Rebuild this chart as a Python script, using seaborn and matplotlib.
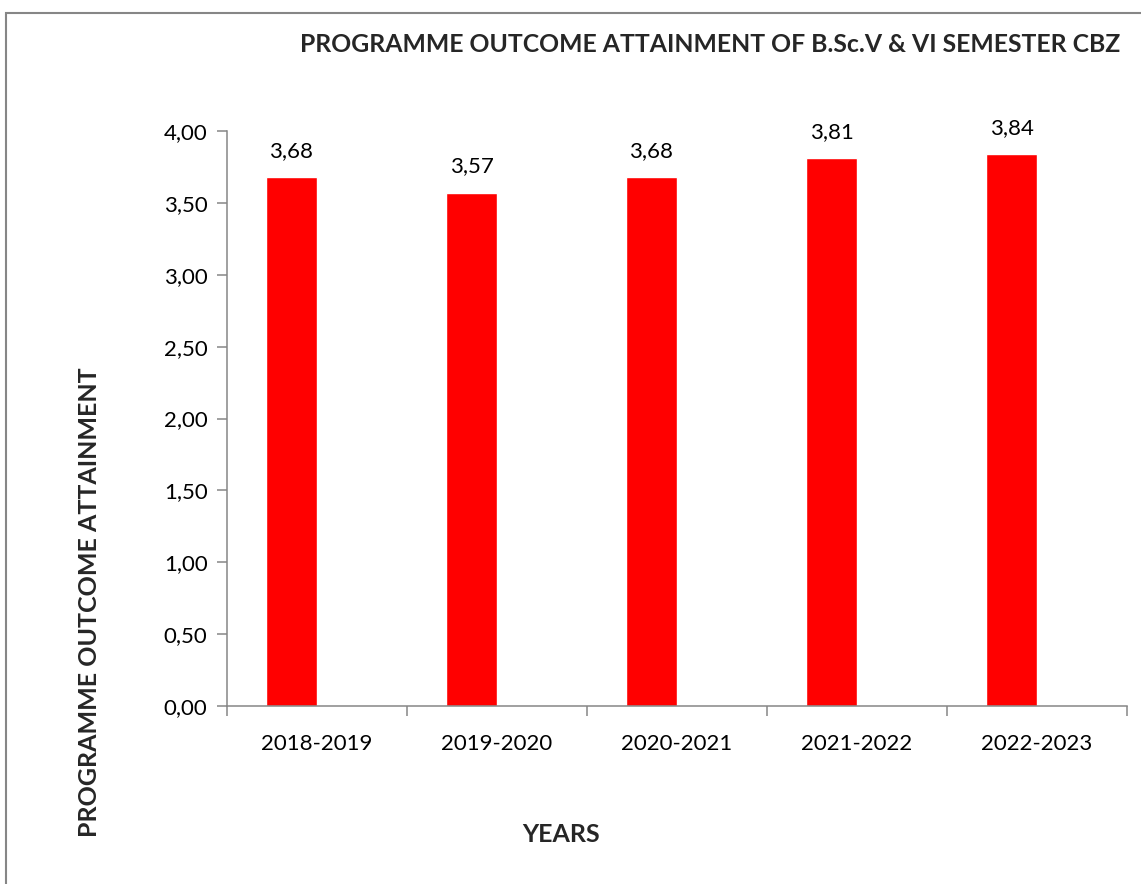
"""Programme outcome attainment bar chart."""
import pandas as pd
import matplotlib
matplotlib.use("Agg")
import matplotlib.pyplot as plt
import matplotlib.ticker as mticker
from matplotlib import font_manager
from matplotlib.patches import Rectangle
import seaborn as sns

years = ["2018-2019", "2019-2020", "2020-2021", "2021-2022", "2022-2023"]
attainment = [3.68, 3.57, 3.68, 3.81, 3.84]
yticks = [0.0, 0.5, 1.0, 1.5, 2.0, 2.5, 3.0, 3.5, 4.0]

GRAY = "#868686"
RED = "#FF0000"


def bold_family(candidates):
    """First candidate family that really has a bold face installed."""
    for name in candidates:
        for f in font_manager.fontManager.ttflist:
            w = f.weight if isinstance(f.weight, int) else 700 if f.weight == "bold" else 400
            if f.name == name and w >= 700:
                return name
    return "DejaVu Sans"


BOLD_FONT = bold_family(["Lato", "Open Sans", "Noto Sans", "Roboto", "Liberation Sans"])

sns.set_theme(style="white")
plt.rcParams["font.family"] = ["Lato", "DejaVu Sans"]

# excel draws the series in the left half of a two-slot cluster
data = pd.DataFrame({
    "year": years * 2,
    "value": attainment + [float("nan")] * len(years),
    "series": ["PO"] * len(years) + ["blank"] * len(years),
})

fig = plt.figure(figsize=(11.41, 8.84), dpi=100)
ax = fig.add_axes([227 / 1141, 1 - 706 / 884, 900 / 1141, 575 / 884])

sns.barplot(data=data, x="year", y="value", hue="series", hue_order=["PO", "blank"],
            palette={"PO": RED, "blank": RED}, width=0.567, dodge=True,
            saturation=1, errorbar=None, legend=False, ax=ax)

# value labels above the bars
for bar in ax.patches:
    h = bar.get_height()
    if h == h and h > 0:
        ax.annotate(f"{h:.2f}".replace(".", ","), (bar.get_x() + bar.get_width() / 2, h),
                    xytext=(0, 19), textcoords="offset points", ha="center", va="center",
                    fontsize=16, color="black")

ax.set_ylim(0, 4)
ax.set_xlim(-0.5, len(years) - 0.5)
ax.set_yticks(yticks)
ax.yaxis.set_major_formatter(mticker.FuncFormatter(lambda v, p: f"{v:.2f}".replace(".", ",")))
ax.set_xticks(range(len(years)))
ax.set_xticklabels(years)
ax.set_xticks([i - 0.5 for i in range(len(years) + 1)], minor=True)
ax.tick_params(axis="x", which="both", bottom=True)
ax.tick_params(axis="y", which="both", left=True)
ax.tick_params(axis="x", which="major", length=0, pad=20, labelsize=16, colors="black")
ax.tick_params(axis="x", which="minor", length=7, width=1.1, color=GRAY, direction="out")
ax.tick_params(axis="y", length=7, width=1.1, color=GRAY, direction="out", pad=7,
               labelsize=16, labelcolor="black")
ax.set_xlabel("")
ax.set_ylabel("")

sns.despine(ax=ax)
for side in ["left", "bottom"]:
    ax.spines[side].set_color(GRAY)
    ax.spines[side].set_linewidth(1.1)

fig.text(300 / 1141, 1 - 44 / 884, "PROGRAMME OUTCOME ATTAINMENT OF B.Sc.V & VI SEMESTER CBZ",
         fontsize=17.8, fontweight="bold", family=BOLD_FONT, ha="left", va="center")
fig.text(561 / 1141, 1 - 835 / 884, "YEARS", fontsize=18, fontweight="bold",
         family=BOLD_FONT, ha="center", va="center")
fig.text(90 / 1141, 1 - 602 / 884, "PROGRAMME OUTCOME ATTAINMENT", fontsize=18,
         fontweight="bold", family=BOLD_FONT, ha="center", va="center", rotation=90)

# chart area border
fig.patches.append(Rectangle((5.5 / 1141, -0.1), 1.2, 1 - 13 / 884 + 0.1,
                             transform=fig.transFigure, fill=False,
                             edgecolor=GRAY, linewidth=1.5))

fig.savefig("out.png", dpi=100)
